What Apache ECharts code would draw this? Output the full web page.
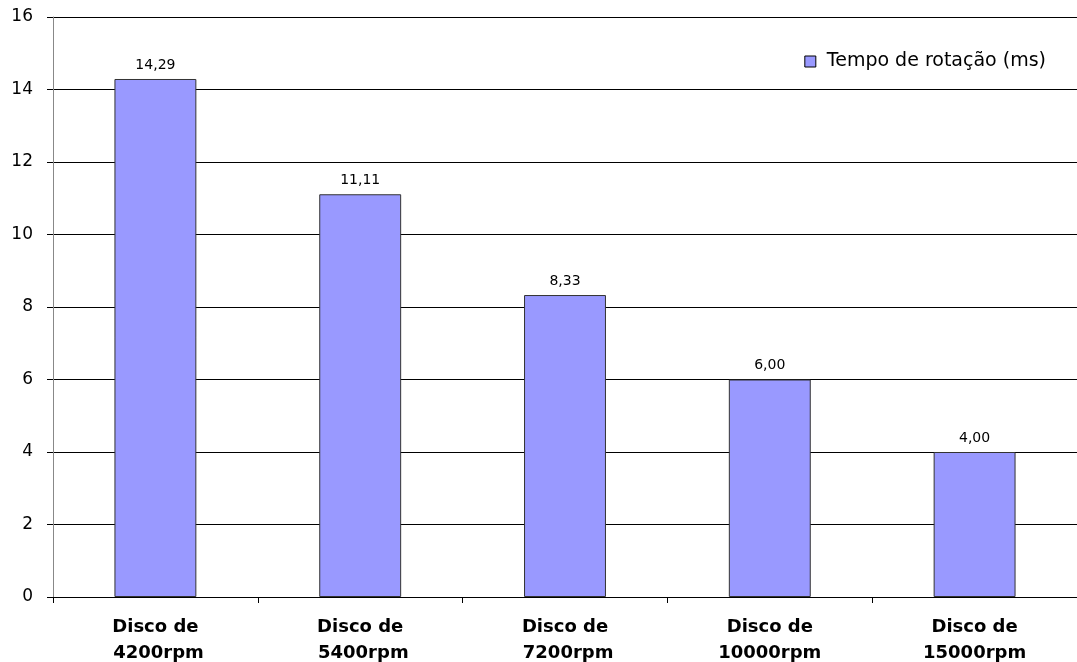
<!DOCTYPE html>
<html>
<head>
<meta charset="utf-8">
<script src="https://cdn.jsdelivr.net/npm/echarts@6/dist/echarts.min.js"></script>
<style>
  html, body { margin: 0; padding: 0; background: #fff; }
  #chart { width: 1077px; height: 662px; }
</style>
</head>
<body>
<div id="chart"></div>
<script>
// dados do grafico
const categorias = ['Disco de\n 4200rpm', 'Disco de\n 5400rpm', 'Disco de\n 7200rpm', 'Disco de\n10000rpm', 'Disco de\n15000rpm'];
const tempoRotacao = [14.29, 11.11, 8.33, 6.00, 4.00];
const nomeSerie = 'Tempo de rotação (ms)';

const fonte = 'DejaVu Sans, Arial, sans-serif';
const chart = echarts.init(document.getElementById('chart'));
chart.setOption({
  animation: false,
  textStyle: { fontFamily: fonte },
  grid: { left: 53, right: 0, top: 17, bottom: 65, outerBoundsMode: 'none' },
  legend: {
    data: [nomeSerie],
    right: 26,
    top: 47,
    icon: 'rect',
    itemWidth: 11,
    itemHeight: 11,
    textStyle: { fontSize: 19, color: '#000', padding: [0, 0, 0, 6] },
    itemStyle: { borderColor: '#000', borderWidth: 1 }
  },
  xAxis: {
    type: 'category',
    data: categorias,
    axisLine: { lineStyle: { color: '#000', width: 1 } },
    axisTick: { show: true, length: 6, lineStyle: { color: '#000' } },
    axisLabel: {
      color: '#000', fontSize: 18, fontWeight: 'bold',
      margin: 17, lineHeight: 26, align: 'center'
    }
  },
  yAxis: {
    type: 'value',
    min: 0, max: 16, interval: 2,
    axisLine: { show: true, lineStyle: { color: '#888', width: 1 } },
    axisTick: { show: true, length: 6, inside: false, lineStyle: { color: '#000' } },
    axisLabel: { color: '#000', fontSize: 17, margin: 20 },
    splitLine: { lineStyle: { color: '#000', width: 1 } }
  },
  series: [{
    name: nomeSerie,
    type: 'bar',
    data: tempoRotacao,
    barWidth: '40%',
    itemStyle: { color: '#9999FF', borderColor: '#333', borderWidth: 1 },
    label: {
      show: true, position: 'top', distance: 7,
      color: '#000', fontSize: 14,
      formatter: p => p.value.toFixed(2).replace('.', ',')
    }
  }]
});
</script>
</body>
</html>
